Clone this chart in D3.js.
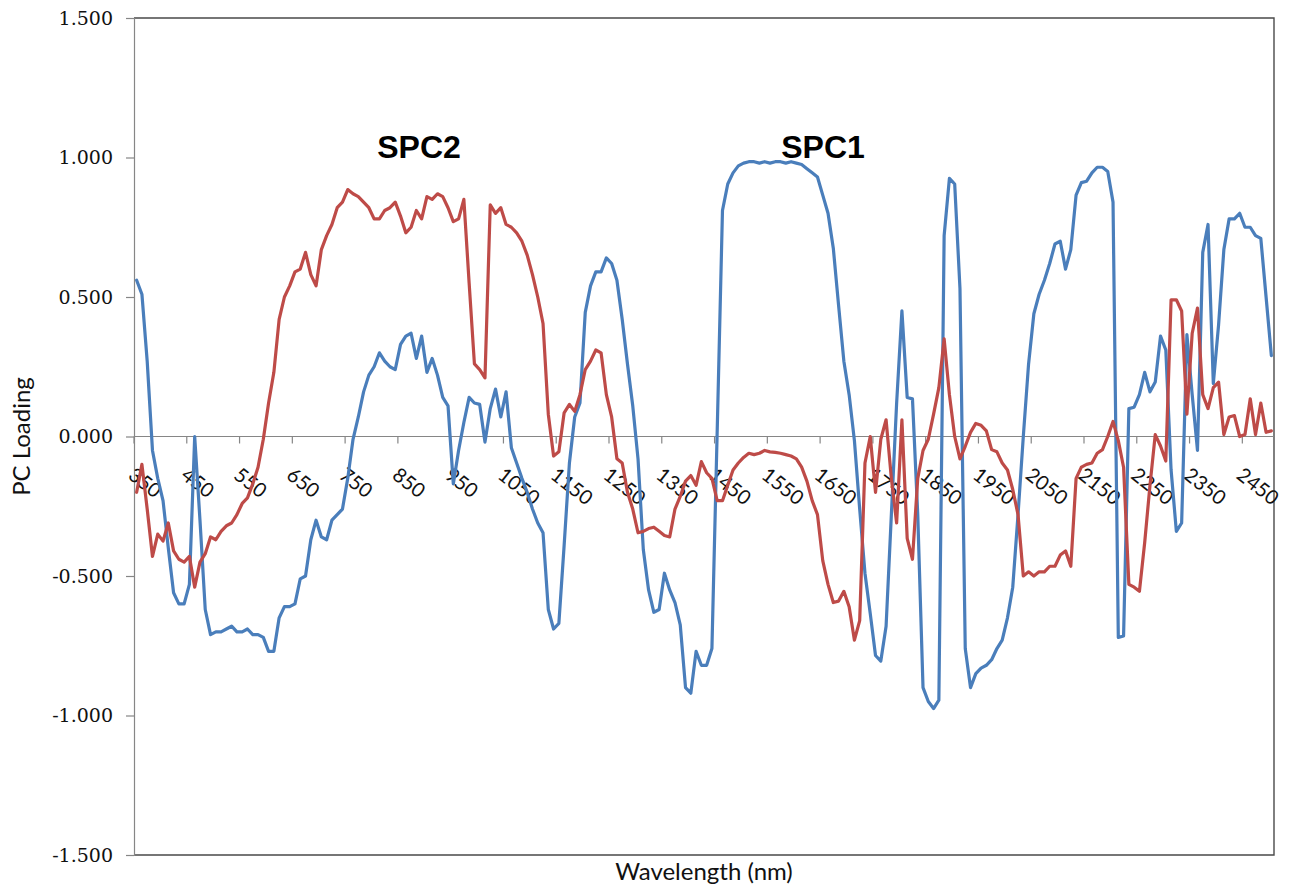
<!DOCTYPE html>
<html>
<head>
<meta charset="utf-8">
<script src="https://cdn.jsdelivr.net/npm/d3@7"></script>
<style>
  html, body { margin: 0; padding: 0; background: #ffffff; }
  svg { display: block; }
</style>
</head>
<body>
<svg id="chart" width="1298" height="886"></svg>
<script>
// Wavelength categories (nm), one every 10 nm
const wavelengths = [
  350,360,370,380,390,400,410,420,430,440,450,460,470,480,490,500,510,520,530,540,
  550,560,570,580,590,600,610,620,630,640,650,660,670,680,690,700,710,720,730,740,
  750,760,770,780,790,800,810,820,830,840,850,860,870,880,890,900,910,920,930,940,
  950,960,970,980,990,1000,1010,1020,1030,1040,1050,1060,1070,1080,1090,1100,1110,1120,1130,1140,
  1150,1160,1170,1180,1190,1200,1210,1220,1230,1240,1250,1260,1270,1280,1290,1300,1310,1320,1330,1340,
  1350,1360,1370,1380,1390,1400,1410,1420,1430,1440,1450,1460,1470,1480,1490,1500,1510,1520,1530,1540,
  1550,1560,1570,1580,1590,1600,1610,1620,1630,1640,1650,1660,1670,1680,1690,1700,1710,1720,1730,1740,
  1750,1760,1770,1780,1790,1800,1810,1820,1830,1840,1850,1860,1870,1880,1890,1900,1910,1920,1930,1940,
  1950,1960,1970,1980,1990,2000,2010,2020,2030,2040,2050,2060,2070,2080,2090,2100,2110,2120,2130,2140,
  2150,2160,2170,2180,2190,2200,2210,2220,2230,2240,2250,2260,2270,2280,2290,2300,2310,2320,2330,2340,
  2350,2360,2370,2380,2390,2400,2410,2420,2430,2440,2450,2460,2470,2480,2490,2500
];

// SPC1 loadings (blue)
const spc1 = [
  0.56,0.51,0.27,-0.05,-0.15,-0.23,-0.40,-0.56,-0.60,-0.60,
  -0.53,0.00,-0.30,-0.62,-0.71,-0.70,-0.70,-0.69,-0.68,-0.70,
  -0.70,-0.69,-0.71,-0.71,-0.72,-0.77,-0.77,-0.65,-0.61,-0.61,
  -0.60,-0.51,-0.50,-0.37,-0.30,-0.36,-0.37,-0.30,-0.28,-0.26,
  -0.15,-0.01,0.07,0.16,0.22,0.25,0.30,0.27,0.25,0.24,
  0.33,0.36,0.37,0.28,0.36,0.23,0.28,0.22,0.14,0.11,
  -0.17,-0.05,0.05,0.14,0.12,0.115,-0.02,0.10,0.17,0.07,
  0.16,-0.04,-0.095,-0.15,-0.20,-0.26,-0.31,-0.345,-0.62,-0.69,
  -0.67,-0.39,-0.095,0.07,0.12,0.445,0.54,0.59,0.59,0.64,
  0.62,0.56,0.42,0.26,0.11,-0.08,-0.405,-0.55,-0.63,-0.62,
  -0.49,-0.55,-0.595,-0.675,-0.90,-0.92,-0.77,-0.82,-0.82,-0.76,
  0.02,0.81,0.905,0.945,0.97,0.98,0.985,0.985,0.98,0.985,
  0.98,0.985,0.985,0.98,0.985,0.98,0.975,0.96,0.945,0.93,
  0.865,0.80,0.675,0.47,0.27,0.15,-0.015,-0.26,-0.49,-0.635,
  -0.785,-0.805,-0.68,-0.28,0.12,0.45,0.14,0.135,-0.28,-0.90,
  -0.95,-0.975,-0.945,0.72,0.925,0.905,0.53,-0.76,-0.90,-0.85,
  -0.83,-0.82,-0.80,-0.76,-0.73,-0.65,-0.54,-0.28,0.00,0.26,
  0.44,0.51,0.56,0.62,0.69,0.70,0.60,0.67,0.865,0.91,
  0.915,0.945,0.965,0.965,0.95,0.84,-0.72,-0.715,0.10,0.105,
  0.15,0.23,0.16,0.195,0.36,0.31,-0.12,-0.34,-0.31,0.365,
  0.15,-0.05,0.66,0.76,0.19,0.40,0.67,0.78,0.78,0.80,
  0.75,0.75,0.72,0.71,0.50,0.29
];

// SPC2 loadings (red)
const spc2 = [
  -0.20,-0.10,-0.26,-0.43,-0.35,-0.375,-0.31,-0.41,-0.44,-0.45,
  -0.43,-0.54,-0.45,-0.42,-0.36,-0.37,-0.34,-0.32,-0.31,-0.28,
  -0.24,-0.22,-0.17,-0.11,-0.01,0.12,0.23,0.42,0.50,0.54,
  0.59,0.60,0.66,0.58,0.54,0.67,0.72,0.76,0.82,0.84,
  0.885,0.87,0.86,0.84,0.82,0.78,0.78,0.81,0.82,0.84,
  0.79,0.73,0.75,0.81,0.78,0.86,0.85,0.87,0.86,0.82,
  0.77,0.78,0.85,0.55,0.26,0.24,0.21,0.83,0.80,0.82,
  0.76,0.75,0.73,0.70,0.65,0.58,0.50,0.405,0.08,-0.07,
  -0.055,0.085,0.115,0.09,0.15,0.24,0.27,0.31,0.30,0.15,
  0.07,-0.08,-0.095,-0.20,-0.26,-0.345,-0.34,-0.33,-0.325,-0.34,
  -0.355,-0.36,-0.26,-0.215,-0.16,-0.14,-0.175,-0.09,-0.13,-0.15,
  -0.23,-0.23,-0.175,-0.12,-0.095,-0.075,-0.06,-0.065,-0.06,-0.05,
  -0.055,-0.057,-0.06,-0.065,-0.07,-0.08,-0.11,-0.16,-0.23,-0.28,
  -0.445,-0.53,-0.595,-0.59,-0.555,-0.61,-0.73,-0.66,-0.095,0.00,
  -0.20,-0.01,0.06,-0.15,-0.31,0.06,-0.365,-0.44,-0.15,-0.05,
  -0.01,0.08,0.175,0.35,0.15,0.00,-0.08,-0.035,0.015,0.047,
  0.04,0.02,-0.047,-0.055,-0.095,-0.12,-0.19,-0.28,-0.50,-0.485,
  -0.50,-0.485,-0.485,-0.465,-0.465,-0.425,-0.41,-0.465,-0.15,-0.11,
  -0.10,-0.095,-0.06,-0.047,0.00,0.054,-0.015,-0.11,-0.53,-0.54,
  -0.555,-0.38,-0.175,0.007,-0.034,-0.088,0.49,0.49,0.45,0.08,
  0.37,0.46,0.15,0.10,0.175,0.195,0.007,0.07,0.075,0.00,
  0.007,0.135,0.007,0.12,0.015,0.02
];

// Labelled categories on the wavelength axis
const xTickLabels = [350,450,550,650,750,850,950,1050,1150,1250,1350,1450,1550,1650,1750,1850,1950,2050,2150,2250,2350,2450];
// Loading axis ticks
const yTicks = [-1.5,-1.0,-0.5,0.0,0.5,1.0,1.5];

const svg = d3.select("#chart");
svg.append("rect").attr("width", 1298).attr("height", 886).attr("fill", "#ffffff");

const plotLeft = 134, plotRight = 1274, plotTop = 18, plotBottom = 855;

const x = d3.scaleBand().domain(wavelengths).range([plotLeft, plotRight]).padding(0);
const bw = x.bandwidth();
const y = d3.scaleLinear().domain([-1.5, 1.5]).range([plotBottom, plotTop]);

const axisGrey = "#868686";

// Plot-area frame (top, right, bottom)
svg.append("path")
  .attr("d", `M${plotLeft},${plotTop}H${plotRight}V${plotBottom}H${plotLeft}`)
  .attr("fill", "none")
  .attr("stroke", "#4a4a4a")
  .attr("stroke-width", 1.4);

// Loading axis
const yAxis = d3.axisLeft(y)
  .tickValues(yTicks)
  .tickFormat(d => d.toFixed(3))
  .tickSize(8)
  .tickPadding(13);

const gy = svg.append("g").attr("transform", `translate(${plotLeft},0)`).call(yAxis);
gy.select(".domain").attr("stroke", axisGrey).attr("stroke-width", 1.2);
gy.selectAll(".tick line").attr("stroke", axisGrey).attr("stroke-width", 1.2);
gy.selectAll(".tick text")
  .attr("font-family", "'DejaVu Serif', serif")
  .attr("font-size", 19)
  .attr("fill", "#111");

// Wavelength axis drawn along the zero line
const gx = svg.append("g");
gx.append("line")
  .attr("x1", plotLeft).attr("x2", plotRight)
  .attr("y1", y(0)).attr("y2", y(0))
  .attr("stroke", axisGrey).attr("stroke-width", 1.2);

gx.selectAll("line.tick")
  .data(xTickLabels)
  .join("line")
  .attr("class", "tick")
  .attr("x1", d => x(d)).attr("x2", d => x(d))
  .attr("y1", y(0)).attr("y2", y(0) + 7)
  .attr("stroke", axisGrey).attr("stroke-width", 1.2);

gx.selectAll("text.tick-label")
  .data(xTickLabels)
  .join("text")
  .attr("class", "tick-label")
  .attr("transform", d => `translate(${x(d) - 7},${y(0) + 41}) rotate(38)`)
  .attr("text-anchor", "start")
  .attr("font-family", "Lato, sans-serif")
  .attr("font-size", 20)
  .attr("fill", "#111")
  .text(d => d);

// Loading curves
const line = d3.line()
  .x(d => x(d.w) + bw / 2)
  .y(d => y(d.v));

const series = [
  { name: "SPC1", values: spc1, color: "#4a7ebb" },
  { name: "SPC2", values: spc2, color: "#be4b48" }
];

series.forEach(s => {
  const pts = wavelengths.map((w, i) => ({ w: w, v: s.values[i] }));
  svg.append("path")
    .datum(pts)
    .attr("fill", "none")
    .attr("stroke", s.color)
    .attr("stroke-width", 3.2)
    .attr("stroke-linejoin", "round")
    .attr("stroke-linecap", "round")
    .attr("d", line);
});

// Series annotations
svg.append("text")
  .attr("x", 419).attr("y", 158)
  .attr("text-anchor", "middle")
  .attr("font-family", "'Liberation Sans', Arial, sans-serif")
  .attr("font-weight", "bold")
  .attr("font-size", 32)
  .attr("fill", "#000")
  .text("SPC2");

svg.append("text")
  .attr("x", 823).attr("y", 158)
  .attr("text-anchor", "middle")
  .attr("font-family", "'Liberation Sans', Arial, sans-serif")
  .attr("font-weight", "bold")
  .attr("font-size", 32)
  .attr("fill", "#000")
  .text("SPC1");

// Axis titles
svg.append("text")
  .attr("transform", `translate(30,${(plotTop + plotBottom) / 2}) rotate(-90)`)
  .attr("text-anchor", "middle")
  .attr("font-family", "Lato, sans-serif")
  .attr("font-size", 24)
  .attr("fill", "#111")
  .text("PC Loading");

svg.append("text")
  .attr("x", 704).attr("y", 880)
  .attr("text-anchor", "middle")
  .attr("font-family", "Lato, sans-serif")
  .attr("font-size", 24)
  .attr("fill", "#111")
  .text("Wavelength (nm)");
</script>
</body>
</html>
